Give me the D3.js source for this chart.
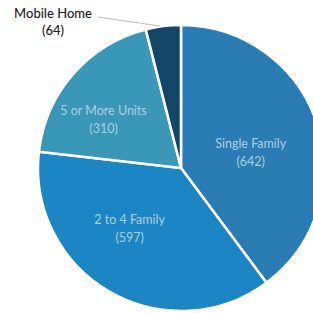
<!DOCTYPE html>
<html>
<head>
<meta charset="utf-8">
<script src="https://cdn.jsdelivr.net/npm/d3@7"></script>
<style>
  html, body { margin: 0; padding: 0; background: #fff; }
  svg { display: block; }
</style>
</head>
<body>
<div id="chart"></div>
<script>
const categories = ['Single Family', '2 to 4 Family', '5 or More Units', 'Mobile Home'];
const values = [642, 597, 310, 64];
const colors = ['#297cb4', '#1b86c3', '#3a97b8', '#14466a'];

const width = 313;
const height = 313;
const cx = 181;
const cy = 168;
const radius = 143;

const svg = d3.select('#chart')
  .append('svg')
  .attr('width', width)
  .attr('height', height);

const data = categories.map((name, i) => ({ name, value: values[i], color: colors[i] }));

const pie = d3.pie()
  .sort(null)
  .value(d => d.value);

const arcs = pie(data);

const arc = d3.arc().innerRadius(0).outerRadius(radius);
const labelArc = d3.arc().innerRadius(radius * 0.58).outerRadius(radius * 0.58);

const g = svg.append('g').attr('transform', `translate(${cx},${cy})`);

g.selectAll('path')
  .data(arcs)
  .enter()
  .append('path')
  .attr('d', arc)
  .style('fill', d => d.data.color)
  .style('stroke', '#fff')
  .style('stroke-width', 2.5);

// inside labels, Excel nudges them a little
const nudge = {
  'Single Family': [-9, 11],
  '2 to 4 Family': [-10, -11],
  '5 or More Units': [-15, 7],
};

const inside = arcs.filter(d => d.data.name !== 'Mobile Home');
const lbl = g.selectAll('g.lbl')
  .data(inside)
  .enter()
  .append('g')
  .attr('class', 'lbl')
  .attr('transform', (d) => {
    const [x, y] = labelArc.centroid(d);
    const n = nudge[d.data.name] || [0, 0];
    return `translate(${x + n[0]},${y + n[1]})`;
  });

lbl.append('text')
  .attr('text-anchor', 'middle')
  .attr('y', -5)
  .style('font-family', 'Lato, "Open Sans", sans-serif')
  .style('font-size', '12.5px')
  .style('fill', '#a9cfe4')
  .text(d => d.data.name);

lbl.append('text')
  .attr('text-anchor', 'middle')
  .attr('y', 13)
  .style('font-family', 'Lato, "Open Sans", sans-serif')
  .style('font-size', '12.5px')
  .style('fill', '#a9cfe4')
  .text(d => `(${d.data.value})`);

// outside label for the small slice
const mobile = arcs.find(d => d.data.name === 'Mobile Home');
const edge = d3.arc().innerRadius(radius - 2).outerRadius(radius - 2).centroid(mobile);
const lx = 53 - cx;
const ly = 14 - cy;

g.append('polyline')
  .attr('points', [[lx + 45, ly + 3], [edge[0] - 3, edge[1] - 2]].map(p => p.join(',')).join(' '))
  .style('fill', 'none')
  .style('stroke', '#bfbfbf')
  .style('stroke-width', 1);

g.append('text')
  .attr('x', lx)
  .attr('y', ly + 4)
  .attr('text-anchor', 'middle')
  .style('font-family', 'Lato, "Open Sans", sans-serif')
  .style('font-size', '13px')
  .style('font-weight', 500)
  .style('fill', '#222')
  .text(mobile.data.name);

g.append('text')
  .attr('x', lx)
  .attr('y', ly + 21)
  .attr('text-anchor', 'middle')
  .style('font-family', 'Lato, "Open Sans", sans-serif')
  .style('font-size', '13px')
  .style('font-weight', 500)
  .style('fill', '#222')
  .text(`(${mobile.data.value})`);
</script>
</body>
</html>
